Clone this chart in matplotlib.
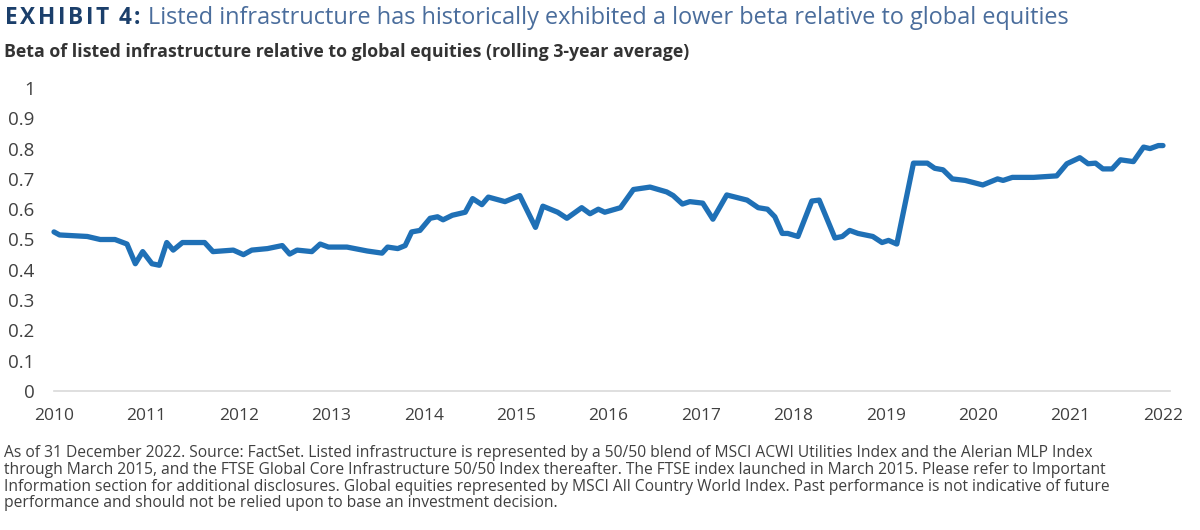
import matplotlib
matplotlib.use("Agg")
import matplotlib.pyplot as plt

# Data: decimal year, beta
years = [2010.00, 2010.06, 2010.36, 2010.50, 2010.66, 2010.79, 2010.88, 2010.96,
         2011.06, 2011.14, 2011.22, 2011.29, 2011.39, 2011.63, 2011.72, 2011.94,
         2012.05, 2012.14, 2012.31, 2012.47, 2012.55, 2012.63, 2012.79, 2012.88,
         2012.97, 2013.17, 2013.39, 2013.55, 2013.61, 2013.72, 2013.80, 2013.87,
         2013.96, 2014.07, 2014.15, 2014.21, 2014.31, 2014.45, 2014.53, 2014.63,
         2014.70, 2014.88, 2015.04, 2015.21, 2015.29, 2015.45, 2015.55, 2015.71,
         2015.80, 2015.89, 2015.96, 2016.13, 2016.27, 2016.45, 2016.63, 2016.70,
         2016.80, 2016.88, 2017.02, 2017.13, 2017.28, 2017.50, 2017.62, 2017.72,
         2017.80, 2017.88, 2017.94, 2018.05, 2018.20, 2018.28, 2018.45, 2018.53,
         2018.61, 2018.70, 2018.86, 2018.96, 2019.03, 2019.12, 2019.30, 2019.45,
         2019.53, 2019.62, 2019.72, 2019.86, 2020.05, 2020.21, 2020.27, 2020.37,
         2020.60, 2020.85, 2020.96, 2021.10, 2021.19, 2021.27, 2021.35, 2021.45,
         2021.54, 2021.68, 2021.79, 2021.86, 2021.95, 2022.00]
beta = [0.525, 0.515, 0.51, 0.50, 0.50, 0.485, 0.42, 0.46,
        0.42, 0.415, 0.49, 0.465, 0.49, 0.49, 0.46, 0.465,
        0.45, 0.465, 0.47, 0.48, 0.452, 0.465, 0.46, 0.485,
        0.475, 0.475, 0.462, 0.455, 0.475, 0.47, 0.48, 0.525,
        0.53, 0.57, 0.575, 0.565, 0.58, 0.59, 0.635, 0.615,
        0.64, 0.625, 0.645, 0.54, 0.61, 0.59, 0.57, 0.605,
        0.585, 0.60, 0.59, 0.605, 0.665, 0.673, 0.657, 0.645,
        0.617, 0.625, 0.62, 0.567, 0.647, 0.63, 0.605, 0.60,
        0.575, 0.52, 0.52, 0.51, 0.627, 0.63, 0.505, 0.51,
        0.53, 0.52, 0.51, 0.49, 0.497, 0.485, 0.752, 0.752,
        0.735, 0.73, 0.70, 0.695, 0.68, 0.70, 0.695, 0.705,
        0.705, 0.71, 0.75, 0.77, 0.75, 0.752, 0.733, 0.733,
        0.763, 0.757, 0.805, 0.80, 0.81, 0.81]

year_ticks = list(range(2010, 2023))
y_ticks = [0, 0.1, 0.2, 0.3, 0.4, 0.5, 0.6, 0.7, 0.8, 0.9, 1]
y_labels = ["0", "0.1", "0.2", "0.3", "0.4", "0.5", "0.6", "0.7", "0.8", "0.9", "1"]

title_bold = "EXHIBIT 4:"
title_rest = "Listed infrastructure has historically exhibited a lower beta relative to global equities"
subtitle = "Beta of listed infrastructure relative to global equities (rolling 3-year average)"
footnote_lines = [
    "As of 31 December 2022. Source: FactSet. Listed infrastructure is represented by a 50/50 blend of MSCI ACWI Utilities Index and the Alerian MLP Index",
    "through March 2015, and the FTSE Global Core Infrastructure 50/50 Index thereafter. The FTSE index launched in March 2015. Please refer to Important",
    "Information section for additional disclosures. Global equities represented by MSCI All Country World Index. Past performance is not indicative of future",
    "performance and should not be relied upon to base an investment decision.",
]

W, H = 1200, 530
fig = plt.figure(figsize=(12, 5.3), dpi=100)
ax = fig.add_axes([54 / W, (H - 391) / H, (1170 - 54) / W, (391 - 88) / H])

ax.plot(years, beta, color="#1f70b6", linewidth=3.8, solid_joinstyle="round",
        solid_capstyle="round", clip_on=False)
ax.set_xlim(2010, 2022.076)
ax.set_ylim(0, 1)
ax.set_xticks(year_ticks)
ax.set_xticklabels([str(y) for y in year_ticks])
ax.set_yticks(y_ticks)
ax.set_yticklabels(y_labels)
for s in ["top", "right", "left"]:
    ax.spines[s].set_visible(False)
ax.spines["bottom"].set_color("#d9d9d9")
ax.spines["bottom"].set_linewidth(1.2)
ax.tick_params(axis="both", length=0, colors="#404040")
ax.tick_params(axis="x", pad=12)
ax.tick_params(axis="y", pad=14)
sans = ["Open Sans", "DejaVu Sans"]
for lab in ax.get_xticklabels():
    lab.set_family(sans)
    lab.set_fontsize(12.5)
for lab in ax.get_yticklabels():
    lab.set_family(sans)
    lab.set_fontsize(13.5)

renderer = fig.canvas.get_renderer()
ty = 1 - 18 / H
xpos = 5.0
for ch in title_bold:
    t = fig.text(xpos / W, ty, ch, family=sans, fontweight="bold", fontsize=16.3,
                 color="#1b3f6b", va="center", ha="left")
    if ch == " ":
        xpos += 7
    else:
        bb = t.get_window_extent(renderer)
        xpos = bb.x1 + 2.6
fig.text((xpos + 5) / W, ty, title_rest, family=sans,
         fontsize=16.9, color="#4a6d9c", va="center", ha="left")
fig.text(4 / W, 1 - 52 / H, subtitle, family=sans,
         fontweight="bold", fontsize=12.8, color="#333333", va="center", ha="left")
for i, line in enumerate(footnote_lines):
    fig.text(4 / W, 1 - (453 + 16.8 * i) / H, line, family=sans, fontsize=11.25,
             color="#404040", va="center", ha="left")

fig.savefig("out.png", dpi=100)
